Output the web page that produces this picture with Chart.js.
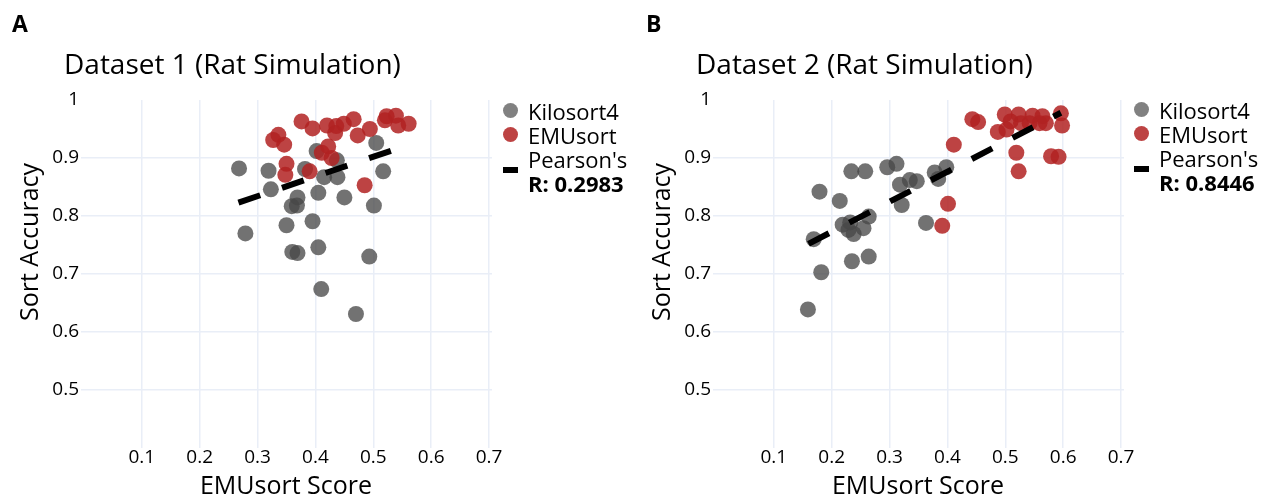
<!DOCTYPE html>
<html>
<head>
<meta charset="utf-8">
<script src="https://cdn.jsdelivr.net/npm/chart.js@4.4.1/dist/chart.umd.min.js"></script>
<style>
  body { margin: 0; background: #fff; font-family: "Open Sans", sans-serif; color: #000; }
  #wrap { position: relative; width: 1271px; height: 501px; overflow: hidden; }
  canvas { position: absolute; top: 0; }
  .txt { position: absolute; white-space: nowrap; line-height: 1; }
  .letter { font-weight: bold; font-size: 23px; }
  .title { font-size: 28px; }
  .xt { font-size: 25px; transform: translateX(-50%); }
  .yt { font-size: 25px; transform: translate(-50%, -50%) rotate(-90deg); }
  .leg { position: absolute; font-size: 22px; line-height: 24px; }
  .leg div { position: relative; padding-left: 25px; }
  .dot { position: absolute; left: 0; top: 4px; width: 15px; height: 15px; border-radius: 50%; }
  .dash { position: absolute; left: 0; top: 20px; width: 15px; height: 6px; background: #000; }
</style>
</head>
<body>
<div id="wrap">
  <canvas id="chartA" width="632" height="501" style="left:0"></canvas>
  <canvas id="chartB" width="639" height="501" style="left:632px"></canvas>

  <div class="txt letter" style="left:12px;top:12px">A</div>
  <div class="txt letter" style="left:646px;top:12px">B</div>
  <div class="txt title" style="left:64px;top:49px">Dataset 1 (Rat Simulation)</div>
  <div class="txt title" style="left:696px;top:49px">Dataset 2 (Rat Simulation)</div>
  <div class="txt yt" style="left:28px;top:242px">Sort Accuracy</div>
  <div class="txt yt" style="left:660px;top:242px">Sort Accuracy</div>
  <div class="txt xt" style="left:286px;top:472px">EMUsort Score</div>
  <div class="txt xt" style="left:918px;top:472px">EMUsort Score</div>

  <div class="leg" style="left:503px;top:99px">
    <div><span class="dot" style="background:rgba(75,75,75,0.7)"></span>Kilosort4</div>
    <div><span class="dot" style="background:rgba(178,34,34,0.85)"></span>EMUsort</div>
    <div><span class="dash"></span>Pearson's<br><b>R: 0.2983</b></div>
  </div>
  <div class="leg" style="left:1134px;top:98px">
    <div><span class="dot" style="background:rgba(75,75,75,0.7)"></span>Kilosort4</div>
    <div><span class="dot" style="background:rgba(178,34,34,0.85)"></span>EMUsort</div>
    <div><span class="dash"></span>Pearson's<br><b>R: 0.8446</b></div>
  </div>
</div>

<script>
// tick labels
var xTicks = [0.1, 0.2, 0.3, 0.4, 0.5, 0.6, 0.7];
var xTickLabels = ['0.1', '0.2', '0.3', '0.4', '0.5', '0.6', '0.7'];
var yTicks = [0.5, 0.6, 0.7, 0.8, 0.9, 1.0];
var yTickLabels = ['0.5', '0.6', '0.7', '0.8', '0.9', '1'];

// Dataset 1
var ks4XA = [0.268, 0.319, 0.323, 0.279, 0.369, 0.359, 0.368, 0.350, 0.395, 0.360, 0.369, 0.405, 0.410,
             0.405, 0.450, 0.501, 0.493, 0.517, 0.505, 0.402, 0.382, 0.415, 0.438, 0.437, 0.470];
var ks4YA = [0.882, 0.878, 0.846, 0.770, 0.832, 0.817, 0.818, 0.784, 0.791, 0.738, 0.736, 0.746, 0.674,
             0.840, 0.832, 0.818, 0.730, 0.877, 0.926, 0.912, 0.881, 0.867, 0.867, 0.896, 0.631];
var emuXA = [0.376, 0.395, 0.420, 0.436, 0.449, 0.466, 0.434, 0.473, 0.494, 0.523, 0.539, 0.520,
             0.543, 0.561, 0.336, 0.327, 0.346, 0.422, 0.411, 0.428, 0.350, 0.348, 0.390, 0.485];
var emuYA = [0.963, 0.951, 0.956, 0.955, 0.959, 0.967, 0.943, 0.939, 0.950, 0.972, 0.973, 0.965,
             0.956, 0.959, 0.940, 0.931, 0.923, 0.920, 0.909, 0.900, 0.890, 0.871, 0.877, 0.853];
var fitXA = [0.267, 0.532];
var fitYA = [0.823, 0.913];

// Dataset 2
var ks4XB = [0.169, 0.182, 0.179, 0.214, 0.234, 0.258, 0.219, 0.232, 0.238, 0.255, 0.264, 0.229, 0.235,
             0.264, 0.296, 0.312, 0.318, 0.335, 0.347, 0.321, 0.378, 0.398, 0.384, 0.363, 0.159];
var ks4YB = [0.760, 0.703, 0.842, 0.826, 0.877, 0.877, 0.785, 0.789, 0.769, 0.779, 0.799, 0.776, 0.722,
             0.730, 0.884, 0.890, 0.854, 0.862, 0.860, 0.819, 0.875, 0.884, 0.864, 0.788, 0.639];
var emuXB = [0.411, 0.401, 0.391, 0.443, 0.453, 0.487, 0.502, 0.499, 0.523, 0.527, 0.547,
             0.564, 0.570, 0.559, 0.596, 0.598, 0.509, 0.542, 0.519, 0.523, 0.579, 0.592];
var emuYB = [0.923, 0.821, 0.783, 0.967, 0.962, 0.945, 0.949, 0.975, 0.975, 0.960, 0.973,
             0.972, 0.960, 0.960, 0.977, 0.956, 0.963, 0.960, 0.909, 0.877, 0.903, 0.902];
var fitXB = [0.160, 0.596];
var fitYB = [0.752, 0.978];

var gridColor = '#e9eef7';

function pts(xs, ys) {
	var out = [];
	for (var i in xs) {
		out.push({x: xs[i], y: ys[i]});
	}
	return out;
}

function makeChart(id, kx, ky, ex, ey, fx, fy, padRight) {
	var ctx = document.getElementById(id);
	return new Chart(ctx, {
		type: 'scatter',
		data: {
			datasets: [
				{
					label: "Pearson's",
					type: 'line',
					data: pts(fx, fy),
					borderColor: '#000',
					borderWidth: 6,
					borderDash: [23, 23],
					borderCapStyle: 'butt',
					pointRadius: 0,
					fill: false
				},
				{
					label: 'EMUsort',
					data: pts(ex, ey),
					backgroundColor: 'rgba(178, 34, 34, 0.85)',
					borderWidth: 0,
					pointRadius: 8,
					pointHoverRadius: 8
				},
				{
					label: 'Kilosort4',
					data: pts(kx, ky),
					backgroundColor: 'rgba(72, 72, 72, 0.77)',
					borderWidth: 0,
					pointRadius: 8,
					pointHoverRadius: 8
				}
			]
		},
		options: {
			responsive: false,
			animation: false,
			layout: { padding: { top: 100, right: padRight, left: 0, bottom: 0 } },
			plugins: { legend: { display: false }, tooltip: { enabled: false } },
			scales: {
				x: {
					type: 'linear',
					min: -0.005,
					max: 0.705,
					afterBuildTicks: function(s) { s.ticks = xTicks.map(function(v) { return {value: v}; }); },
					afterFit: function(s) { s.height = 53; },
					border: { display: false },
					grid: { color: gridColor, lineWidth: 1.5, drawTicks: false },
					ticks: {
						padding: -2,
						color: '#000',
						font: { family: 'Open Sans', size: 19 },
						callback: function(v, i) { return xTickLabels[i]; }
					}
				},
				y: {
					min: 0.4,
					max: 1.0,
					afterBuildTicks: function(s) { s.ticks = yTicks.map(function(v) { return {value: v}; }); },
					afterFit: function(s) { s.width = 81; },
					border: { display: false },
					grid: {
						drawTicks: false,
						lineWidth: 1.5,
						color: function(c) { return c.tick && c.tick.value >= 1 ? 'rgba(0,0,0,0)' : gridColor; }
					},
					ticks: {
						padding: 2,
						color: '#000',
						font: { family: 'Open Sans', size: 19 },
						callback: function(v, i) { return yTickLabels[i]; }
					}
				}
			}
		}
	});
}

makeChart('chartA', ks4XA, ks4YA, emuXA, emuYA, fitXA, fitYA, 140);
makeChart('chartB', ks4XB, ks4YB, emuXB, emuYB, fitXB, fitYB, 147);
</script>
</body>
</html>
